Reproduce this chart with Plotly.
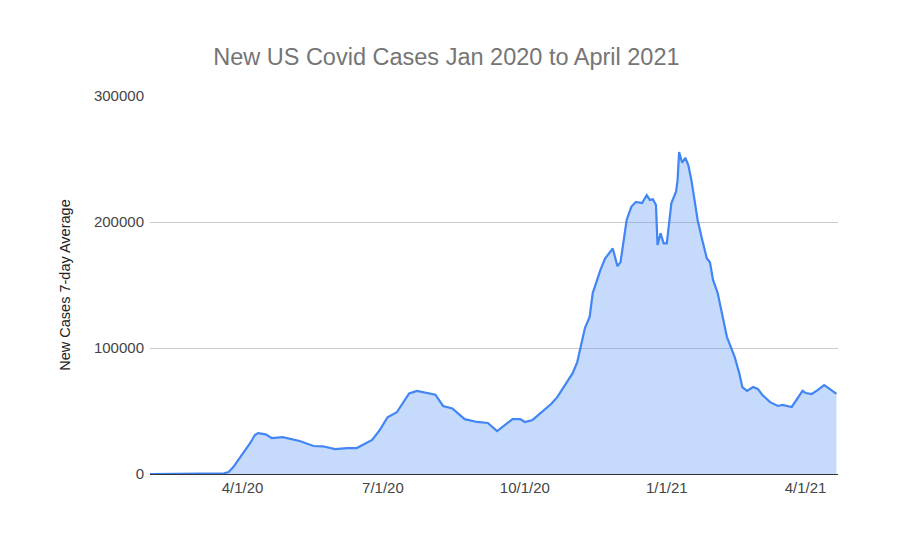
import plotly.graph_objects as go

dates = [
    "2020-02-01", "2020-03-14", "2020-03-20", "2020-03-23", "2020-03-26", "2020-04-01",
    "2020-04-06", "2020-04-09", "2020-04-11", "2020-04-16", "2020-04-20", "2020-04-27",
    "2020-05-08", "2020-05-17", "2020-05-23", "2020-05-31", "2020-06-08", "2020-06-14",
    "2020-06-18", "2020-06-24", "2020-06-29", "2020-07-04", "2020-07-10", "2020-07-14",
    "2020-07-18", "2020-07-23", "2020-07-31", "2020-08-04", "2020-08-09", "2020-08-15",
    "2020-08-23", "2020-08-31", "2020-09-07", "2020-09-13", "2020-09-19", "2020-09-23",
    "2020-09-28", "2020-10-01", "2020-10-06", "2020-10-11", "2020-10-18", "2020-10-22",
    "2020-10-26", "2020-11-01", "2020-11-04", "2020-11-06", "2020-11-09", "2020-11-12",
    "2020-11-14", "2020-11-19", "2020-11-22", "2020-11-27", "2020-11-30", "2020-12-02",
    "2020-12-06", "2020-12-09", "2020-12-12", "2020-12-16", "2020-12-19", "2020-12-21",
    "2020-12-23", "2020-12-25", "2020-12-26", "2020-12-28", "2020-12-30", "2021-01-01",
    "2021-01-03", "2021-01-04", "2021-01-07", "2021-01-08", "2021-01-09", "2021-01-11",
    "2021-01-13", "2021-01-15", "2021-01-17", "2021-01-19", "2021-01-21", "2021-01-24",
    "2021-01-27", "2021-01-29", "2021-01-31", "2021-02-03", "2021-02-06", "2021-02-09",
    "2021-02-14", "2021-02-17", "2021-02-19", "2021-02-22", "2021-02-26", "2021-03-01",
    "2021-03-04", "2021-03-09", "2021-03-14", "2021-03-17", "2021-03-23", "2021-03-25",
    "2021-03-30", "2021-04-01", "2021-04-05", "2021-04-09", "2021-04-13", "2021-04-15",
    "2021-04-18", "2021-04-21",
]

cases = [
    0, 200, 500, 1500, 5500, 15900,
    24600, 31000, 32500, 31500, 28500, 29300,
    26200, 22200, 22000, 19800, 20600, 20600,
    23000, 27000, 35000, 45000, 49000, 57000,
    64000, 66000, 64000, 63000, 54000, 52000,
    43500, 41300, 40500, 34000, 39700, 43600,
    43600, 41300, 42900, 48400, 55500, 61000,
    69000, 80000, 89000, 101000, 116000, 124600,
    143600, 162000, 171000, 179000, 165000, 168000,
    201600, 212000, 216000, 215000, 221400, 217500,
    218000, 213500, 181700, 191000, 183000, 183000,
    201600, 215000, 224000, 233000, 255500, 247000,
    251000, 245000, 233000, 217500, 201600, 185700,
    171000, 168000, 154000, 143600, 124600, 108700,
    92900, 80000, 69000, 66000, 69000, 67500,
    62700, 57000, 54000, 54800, 53200, 57000,
    66000, 64300, 63500, 66700, 70600, 69000,
    66000, 63500,
]

x_tick_vals = ["2020-04-01", "2020-07-01", "2020-10-01", "2021-01-01", "2021-04-01"]
x_tick_text = ["4/1/20", "7/1/20", "10/1/20", "1/1/21", "4/1/21"]
y_tick_vals = [0, 100000, 200000, 300000]
y_tick_text = ["0", "100000", "200000", "300000"]

fig = go.Figure()
fig.add_trace(go.Scatter(
    x=dates, y=cases, mode="lines", fill="tozeroy",
    line=dict(color="#4285F4", width=2.2),
    fillcolor="rgba(66,133,244,0.30)",
    hoverinfo="skip", showlegend=False,
))

fig.update_layout(
    width=902, height=534,
    margin=dict(l=142, r=72, t=88, b=68),
    paper_bgcolor="white", plot_bgcolor="white",
    font=dict(family="Liberation Sans, Arial, sans-serif", color="#444444", size=15),
    title=dict(
        text="New US Covid Cases Jan 2020 to April 2021",
        x=0.486, xref="container", xanchor="center",
        y=0.908, yref="container", yanchor="middle",
        font=dict(size=23.5, color="#757575", family="Liberation Sans, Arial, sans-serif"),
    ),
    xaxis=dict(
        type="date",
        range=["2020-02-01", "2021-04-22"],
        tickvals=x_tick_vals, ticktext=x_tick_text,
        showgrid=False, zeroline=False,
        showline=True, linecolor="#333333", linewidth=1,
        ticks="", tickfont=dict(size=15, color="#444444"),
    ),
    yaxis=dict(
        range=[0, 300000],
        tickvals=y_tick_vals, ticktext=y_tick_text,
        showgrid=True, gridcolor="#cccccc", gridwidth=1,
        zeroline=False, showline=False, ticks="",
        ticklabelstandoff=5,
        tickfont=dict(size=15, color="#444444"),
        title=dict(text="New Cases 7-day Average", font=dict(size=14.5, color="#222222"), standoff=19),
    ),
)

fig.write_html("out.html")
